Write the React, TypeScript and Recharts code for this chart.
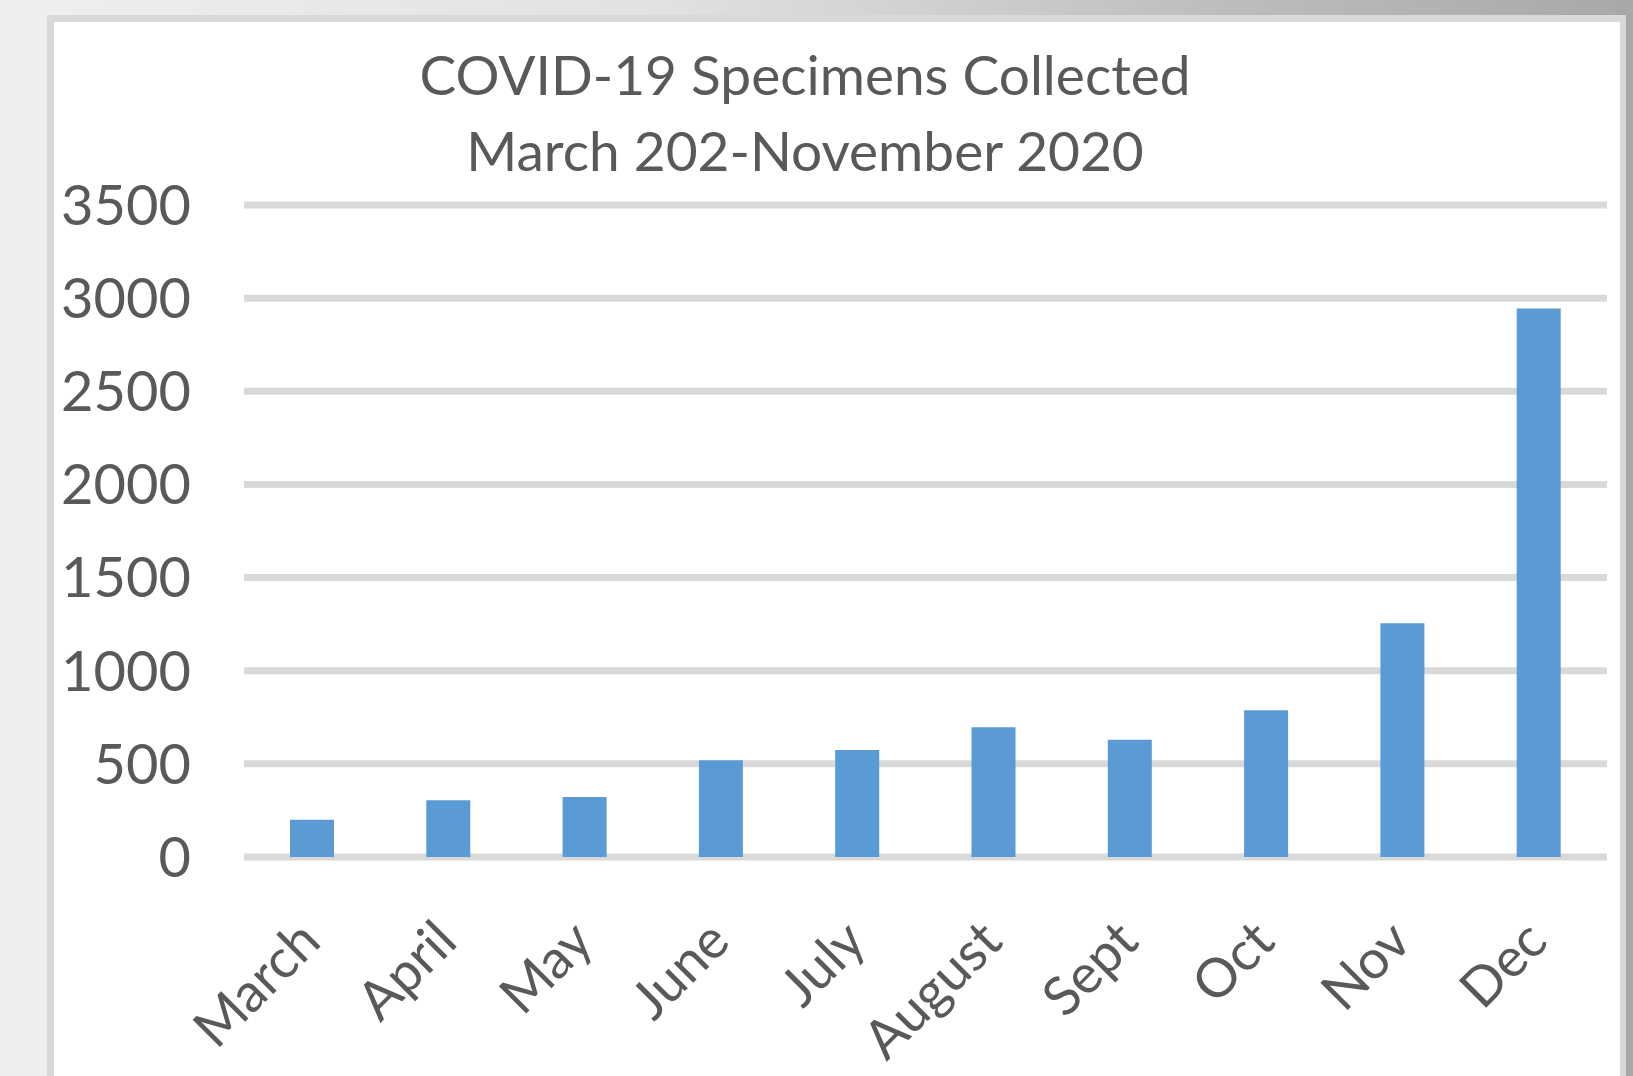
import { BarChart, Bar, XAxis, YAxis, CartesianGrid } from "recharts";

const months = ["March", "April", "May", "June", "July", "August", "Sept", "Oct", "Nov", "Dec"];
const specimens = [200, 305, 322, 520, 574, 697, 630, 788, 1255, 2945];
const yTicks = [0, 500, 1000, 1500, 2000, 2500, 3000, 3500];

const data = months.map((m, i) => ({ month: m, value: specimens[i] }));

const FONT = "Lato, 'Open Sans', sans-serif";
const TEXT = "#595959";

function MonthTick(props: any) {
  const { x, payload } = props;
  const ax = x + 11;
  const ay = 944;
  return (
    <text
      x={ax}
      y={ay}
      transform={`rotate(-45, ${ax}, ${ay})`}
      textAnchor="end"
      fill={TEXT}
      fontSize={54}
      fontFamily={FONT}
    >
      {payload.value}
    </text>
  );
}

export default function App() {
  return (
    <div
      style={{
        position: "absolute",
        left: 0,
        top: 0,
        width: 1633,
        height: 1076,
        overflow: "hidden",
        background: "linear-gradient(to right, #efefef 0%, #e2e2e2 40%, #bdbdbd 75%, #a8a8a8 100%)",
      }}
    >
      <div
        style={{
          position: "absolute",
          left: 47,
          top: 15,
          width: 1579,
          height: 1100,
          boxSizing: "border-box",
          background: "#fff",
          borderTop: "7px solid #d9d9d9",
          borderLeft: "7px solid #d9d9d9",
          borderRight: "6px solid #d9d9d9",
        }}
      />
      <div
        style={{
          position: "absolute",
          left: 305,
          top: 36,
          width: 1000,
          textAlign: "center",
          fontFamily: FONT,
          fontSize: 55,
          lineHeight: "76px",
          color: TEXT,
        }}
      >
        <div>COVID-19 Specimens Collected</div>
        <div>March 202-November 2020</div>
      </div>
      <div style={{ position: "absolute", left: 0, top: 0 }}>
        <BarChart
          width={1633}
          height={1076}
          data={data}
          margin={{ top: 205, right: 26, bottom: 39, left: 0 }}
          barSize={44}
        >
          <CartesianGrid vertical={false} stroke="#d9d9d9" strokeWidth={7} />
          <XAxis
            dataKey="month"
            axisLine={false}
            tickLine={false}
            height={180}
            interval={0}
            tick={<MonthTick />}
          />
          <YAxis
            width={244}
            domain={[0, 3500]}
            ticks={yTicks}
            axisLine={false}
            tickLine={false}
            tickSize={0}
            tickMargin={53}
            tick={{ fill: TEXT, fontSize: 56, fontFamily: FONT }}
          />
          <Bar dataKey="value" fill="#5b9bd5" isAnimationActive={false} />
        </BarChart>
      </div>
    </div>
  );
}
